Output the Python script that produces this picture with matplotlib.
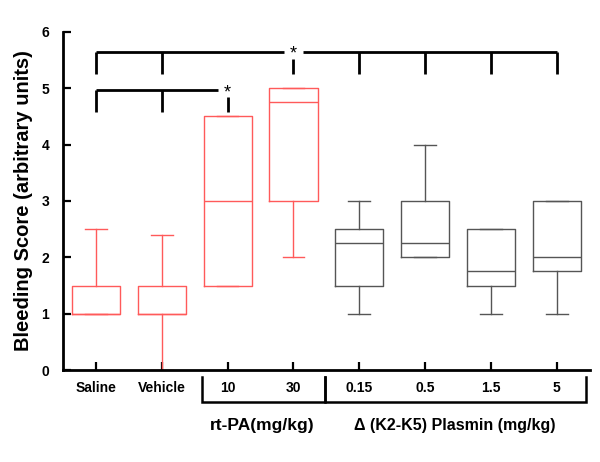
import matplotlib

matplotlib.use("Agg")

import matplotlib.pyplot as plt

plt.rcParams["font.family"] = ["Liberation Sans", "DejaVu Sans"]

# group labels along x and the box summary (whisker low, q1, median, q3, whisker high)
GROUPS = ["Saline", "Vehicle", "10", "30", "0.15", "0.5", "1.5", "5"]
WHISK_LO = [1.0, 0.0, 1.5, 2.0, 1.0, 2.0, 1.0, 1.0]
Q1 = [1.0, 1.0, 1.5, 3.0, 1.5, 2.0, 1.5, 1.75]
MEDIAN = [1.0, 1.0, 3.0, 4.75, 2.25, 2.25, 1.75, 2.0]
Q3 = [1.5, 1.5, 4.5, 5.0, 2.5, 3.0, 2.5, 3.0]
WHISK_HI = [2.5, 2.4, 4.5, 5.0, 3.0, 4.0, 2.5, 3.0]
RED_GROUPS = 4

RED = "#ff5a5a"
GREY = "#555555"


def box_stats():
    stats = []
    for i, name in enumerate(GROUPS):
        stats.append({
            "label": name,
            "whislo": WHISK_LO[i],
            "q1": Q1[i],
            "med": MEDIAN[i],
            "q3": Q3[i],
            "whishi": WHISK_HI[i],
            "fliers": [],
        })
    return stats


def bracket(ax, x_start, x_end, drops, y, drop_to, star_x, gap=0.14):
    ax.plot([x_start, star_x - gap], [y, y], color="black", lw=2, solid_capstyle="butt")
    if x_end > star_x:
        ax.plot([star_x + gap, x_end], [y, y], color="black", lw=2, solid_capstyle="butt")
    for xd in drops:
        top = y - 0.13 if xd == star_x else y
        ax.plot([xd, xd], [top, drop_to], color="black", lw=2, solid_capstyle="butt")
    ax.text(star_x, y - 0.05, "*", ha="center", va="center", fontsize=13)


fig = plt.figure(figsize=(6, 4.62), dpi=100)
ax = fig.add_axes([0.105, 0.199, 0.878, 0.732])

stats = box_stats()
positions = list(range(1, len(GROUPS) + 1))
for i, st in enumerate(stats):
    color = RED if i < RED_GROUPS else GREY
    ax.bxp(
        [st],
        positions=[positions[i]],
        widths=0.73,
        showfliers=False,
        boxprops={"color": color, "lw": 1},
        medianprops={"color": color, "lw": 1},
        whiskerprops={"color": color, "lw": 1},
        capprops={"color": color, "lw": 1},
        capwidths=0.33,
    )

ax.set_xlim(0.5, 8.5)
ax.set_ylim(0, 6)
ax.set_yticks(range(0, 7))
ax.set_yticklabels([str(v) for v in range(0, 7)], fontsize=10, fontweight="bold")
ax.set_xticks(positions)
ax.set_xticklabels(GROUPS, fontsize=10, fontweight="bold")
ax.tick_params(direction="in", length=6, width=1.6, pad=8)
ax.tick_params(axis="y", pad=10)
ax.spines["top"].set_visible(False)
ax.spines["right"].set_visible(False)
ax.spines["left"].set_linewidth(2)
ax.spines["bottom"].set_linewidth(2)
ax.set_ylabel("Bleeding Score (arbitrary units)", fontsize=14.5, fontweight="bold", labelpad=6)

# significance brackets
bracket(ax, 1, 8, [1, 2, 4, 5, 6, 7, 8], 5.65, 5.25, 4)
bracket(ax, 1, 3, [1, 2, 3], 4.97, 4.57, 3)

# group brackets under the axis
trans = ax.get_xaxis_transform()
y_top = -0.02
y_low = -0.095
for xa, xb in [(2.61, 4.48), (4.48, 8.44)]:
    ax.plot([xa, xa, xb, xb], [y_top, y_low, y_low, y_top], color="black", lw=1.8,
            transform=trans, clip_on=False, solid_joinstyle="miter")
ax.text(3.53, -0.165, "rt-PA(mg/kg)", transform=trans, ha="center", va="center",
        fontsize=12.5, fontweight="bold")
ax.text(6.45, -0.165, "\u0394 (K2-K5) Plasmin (mg/kg)", transform=trans, ha="center",
        va="center", fontsize=11.5, fontweight="bold")

fig.savefig("out.png", dpi=100)
